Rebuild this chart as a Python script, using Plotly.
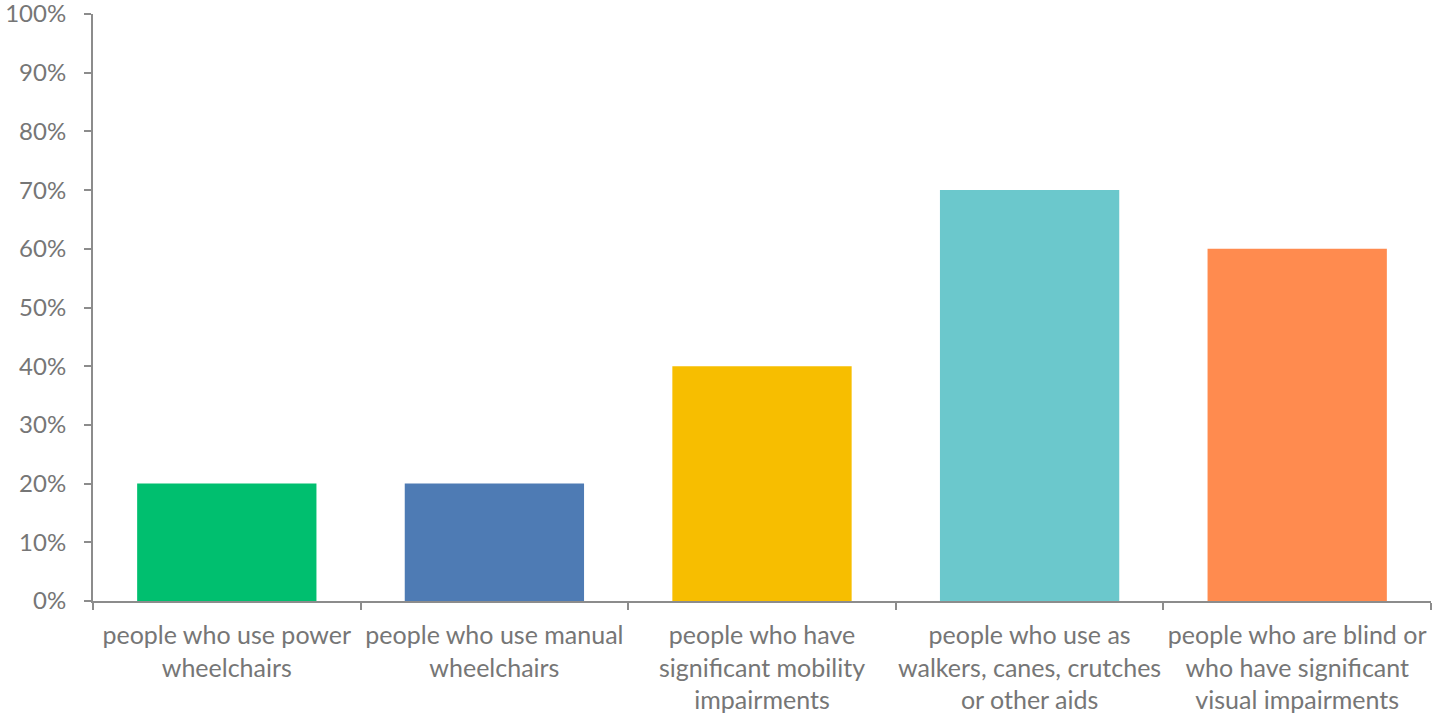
import plotly.graph_objects as go

categories = [
    "people who use power<br>wheelchairs",
    "people who use manual<br>wheelchairs",
    "people who have<br>significant mobility<br>impairments",
    "people who use as<br>walkers, canes, crutches<br>or other aids",
    "people who are blind or<br>who have significant<br>visual impairments",
]
values = [0.20, 0.20, 0.40, 0.70, 0.60]
colors = ["#00BF6F", "#4E7BB4", "#F7BE00", "#6BC8CC", "#FF8B4F"]
y_ticks = [0, 0.1, 0.2, 0.3, 0.4, 0.5, 0.6, 0.7, 0.8, 0.9, 1.0]

fig = go.Figure(go.Bar(x=categories, y=values, marker=dict(color=colors, line=dict(width=0)),
                       width=0.67))

axis_color = "#8C8C8C"
font_color = "#767676"
fig.update_layout(
    width=1441, height=714,
    margin=dict(l=93, r=10, t=14, b=113, autoexpand=False),
    plot_bgcolor="white", paper_bgcolor="white",
    showlegend=False,
    font=dict(family="Lato, Open Sans, sans-serif", color=font_color, size=20),
    bargap=0.33,
)
fig.update_xaxes(
    automargin=False, tickangle=0,
    showline=True, linecolor=axis_color, linewidth=2,
    ticks="outside", tickson="boundaries", ticklen=7, tickcolor=axis_color, tickwidth=2,
    tickfont=dict(size=25, color=font_color), showgrid=False,
    ticklabelstandoff=11, ticklabeloverflow="allow",
)
fig.update_yaxes(
    automargin=False,
    range=[0, 1.0], tickvals=y_ticks, tickformat=".0%",
    showline=True, linecolor=axis_color, linewidth=2,
    ticks="outside", ticklen=7, tickcolor=axis_color, tickwidth=2,
    tickfont=dict(size=24, color=font_color), showgrid=False, zeroline=False,
    ticklabelstandoff=13, ticklabeloverflow="allow",
)

fig.write_html("out.html", config={"displayModeBar": False},
               post_script="document.body.style.margin='0';")
